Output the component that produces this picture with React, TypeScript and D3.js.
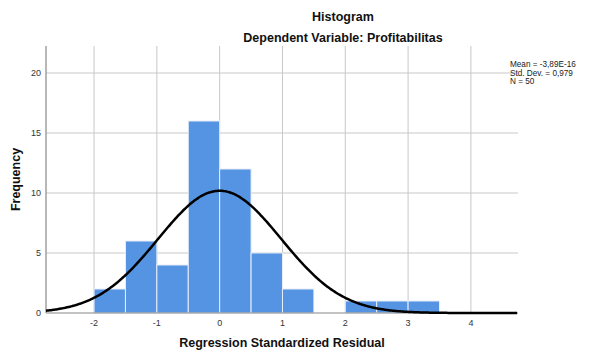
import * as d3 from "d3";

const binStarts = [-2, -1.5, -1, -0.5, 0, 0.5, 1, 1.5, 2, 2.5, 3];
const binCounts = [2, 6, 4, 16, 12, 5, 2, 0, 1, 1, 1];
const binWidth = 0.5;
const xTicks = [-2, -1, 0, 1, 2, 3, 4];
const yTicks = [0, 5, 10, 15, 20];
const statLines = ["Mean = -3,89E-16", "Std. Dev. = 0,979", "N = 50"];
const mean = -3.89e-16;
const stdDev = 0.979;
const n = 50;

const width = 593;
const height = 352;
const margin = { left: 46, right: 75, top: 46, bottom: 39 };
const font = "Arial, 'Liberation Sans', sans-serif";

export default function App() {
  const x = d3
    .scaleLinear()
    .domain([-2.765, 4.75])
    .range([margin.left, width - margin.right]);
  const y = d3
    .scaleLinear()
    .domain([0, 22.25])
    .range([height - margin.bottom, margin.top]);

  const pdf = (v: number) =>
    (n * binWidth * Math.exp(-((v - mean) ** 2) / (2 * stdDev * stdDev))) /
    (stdDev * Math.sqrt(2 * Math.PI));
  const curvePts = d3.range(-2.765, 4.75, 0.02).map((v) => [v, pdf(v)]);
  const line = d3
    .line<number[]>()
    .x((d) => x(d[0]))
    .y((d) => y(d[1]))
    .curve(d3.curveBasis);

  const [x0, x1] = x.range();
  const [yb, yt] = y.range();

  return (
    <svg
      width={width}
      height={height}
      style={{ position: "absolute", left: 0, top: 0, background: "#fff" }}
    >
      <text x={343} y={21} textAnchor="middle" fontFamily={font} fontSize={12.5} fontWeight="bold" fill="#111">
        Histogram
      </text>
      <text x={343} y={42} textAnchor="middle" fontFamily={font} fontSize={12.5} fontWeight="bold" fill="#111">
        Dependent Variable: Profitabilitas
      </text>

      {/* grid */}
      {xTicks.map((t) => (
        <line key={"gx" + t} x1={x(t)} x2={x(t)} y1={yt} y2={yb} stroke="#c8c8c8" strokeWidth={1} />
      ))}
      {yTicks.slice(1).map((t) => (
        <line key={"gy" + t} x1={x0} x2={x1} y1={y(t)} y2={y(t)} stroke="#c8c8c8" strokeWidth={1} />
      ))}

      {/* bars */}
      {binStarts.map((s, i) =>
        binCounts[i] > 0 ? (
          <rect
            key={"b" + i}
            x={x(s)}
            y={y(binCounts[i])}
            width={x(s + binWidth) - x(s)}
            height={yb - y(binCounts[i])}
            fill="#5593e3"
            stroke="#e8eef8"
            strokeWidth={1}
          />
        ) : null
      )}

      {/* axes */}
      <line x1={x0} x2={x0} y1={yt} y2={yb} stroke="#888" strokeWidth={1.2} />
      <line x1={x0} x2={x1} y1={yb} y2={yb} stroke="#888" strokeWidth={1.2} />

      <path d={line(curvePts) ?? ""} fill="none" stroke="#000" strokeWidth={2.5} />

      {xTicks.map((t) => (
        <text key={"tx" + t} x={x(t)} y={yb + 13} textAnchor="middle" fontFamily={font} fontSize={9} fill="#333">
          {t}
        </text>
      ))}
      {yTicks.map((t) => (
        <text key={"ty" + t} x={x0 - 5} y={y(t)} dy="0.35em" textAnchor="end" fontFamily={font} fontSize={9} fill="#333">
          {t}
        </text>
      ))}

      <text x={282} y={347} textAnchor="middle" fontFamily={font} fontSize={12.5} fontWeight="bold" fill="#111">
        Regression Standardized Residual
      </text>
      <text
        transform={`translate(20, ${(yt + yb) / 2}) rotate(-90)`}
        textAnchor="middle"
        fontFamily={font}
        fontSize={12.5}
        fontWeight="bold"
        fill="#111"
      >
        Frequency
      </text>

      {statLines.map((s, i) => (
        <text key={s} x={510} y={67 + i * 8.6} fontFamily={font} fontSize={8.2} fill="#222">
          {s}
        </text>
      ))}
    </svg>
  );
}
